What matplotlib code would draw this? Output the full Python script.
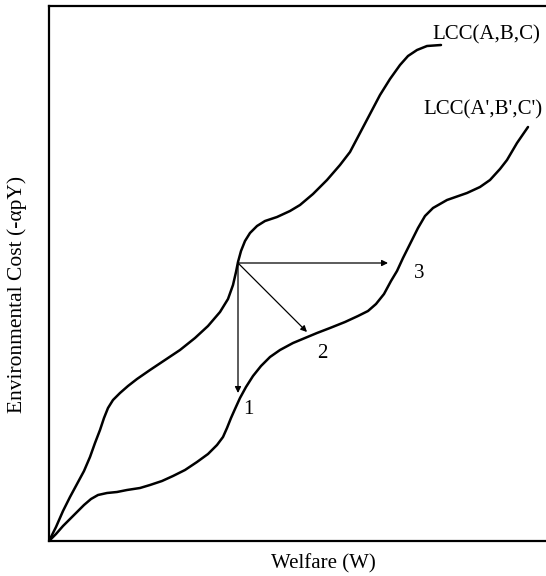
import numpy as np
import matplotlib.pyplot as plt

# Lebenszyklus-Kostenkurven, Koordinaten
# (Einheiten: Welfare 0..500, Kosten 0..535)
W_ABC = [0, 7, 14, 21, 28, 35, 41, 46, 51, 55, 59, 64, 71, 79, 88, 101, 116,
         131, 146, 159, 171, 179, 184, 187, 189, 192, 196, 201, 208, 216, 228,
         241, 251, 264, 278, 291, 301, 311, 321, 331, 341, 351, 359, 368, 378,
         392]
C_ABC = [0, 14, 30, 44, 57, 70, 84, 98, 111, 123, 133, 141, 148, 155, 162,
         171, 181, 191, 203, 215, 229, 242, 256, 269, 279, 290, 300, 308, 315,
         320, 324, 330, 336, 347, 361, 376, 389, 408, 427, 446, 462, 476, 485,
         491, 495, 496]

W_ABC2 = [0, 7, 14, 21, 28, 35, 42, 49, 58, 68, 78, 91, 101, 113, 124, 136,
          148, 159, 168, 174, 178, 182, 186, 191, 197, 204, 212, 221, 231, 244,
          256, 268, 281, 296, 309, 319, 327, 335, 342, 348, 354, 361, 369, 376,
          384, 398, 418, 431, 441, 451, 458, 468, 479]
C_ABC2 = [0, 7, 15, 22, 29, 36, 42, 46, 48, 49, 51, 53, 56, 60, 65, 71, 79,
          87, 96, 104, 113, 123, 132, 143, 154, 165, 175, 184, 191, 198, 203,
          208, 213, 219, 225, 230, 237, 247, 260, 270, 283, 297, 313, 325, 333,
          341, 348, 354, 361, 372, 381, 398, 414]

ORIGIN = (189, 278)
ARROW_ENDS = [(189, 148), (258, 209), (339, 278)]
MOVE_LABELS = ["1", "2", "3"]
MOVE_POS = [(199, 131), (273, 188), (370, 268)]

CURVE_LABELS = ["LCC(A,B,C)", "LCC(A',B',C')"]
CURVE_LABEL_POS = [(383, 506), (374, 431)]

plt.rcParams["font.family"] = ["Liberation Serif", "DejaVu Serif"]

fig = plt.figure(figsize=(5.46, 5.76), dpi=100)
ax = fig.add_axes([49 / 546, 35 / 576, 500 / 546, 535 / 576])
ax.set_xlim(0, 500)
ax.set_ylim(0, 535)

for w, c in [(W_ABC, C_ABC), (W_ABC2, C_ABC2)]:
    ax.plot(w, c, color="black", lw=1.8, solid_capstyle="round",
            solid_joinstyle="round")

for end in ARROW_ENDS:
    ax.annotate("", xy=end, xytext=ORIGIN,
                arrowprops=dict(arrowstyle="-|>", color="black", lw=0.9,
                                mutation_scale=9, shrinkA=0, shrinkB=0))

for lab, pos in zip(MOVE_LABELS, MOVE_POS):
    ax.text(pos[0], pos[1], lab, fontsize=15, ha="center", va="center")

for lab, pos in zip(CURVE_LABELS, CURVE_LABEL_POS):
    ax.text(pos[0], pos[1], lab, fontsize=15, ha="left", va="center")

ax.set_xticks([])
ax.set_yticks([])
ax.spines["right"].set_visible(False)
for s in ["left", "bottom", "top"]:
    ax.spines[s].set_linewidth(1.6)

ax.set_xlabel("Welfare (W)", fontsize=15)
ax.xaxis.set_label_coords(0.548, -0.025, transform=ax.transAxes)
ax.xaxis.label.set_va("top")
ax.set_ylabel("Environmental Cost (-\u03b1pY)", fontsize=15.5)
ax.yaxis.set_label_coords(-0.044, 0.46, transform=ax.transAxes)

fig.savefig("out.png", dpi=100)
